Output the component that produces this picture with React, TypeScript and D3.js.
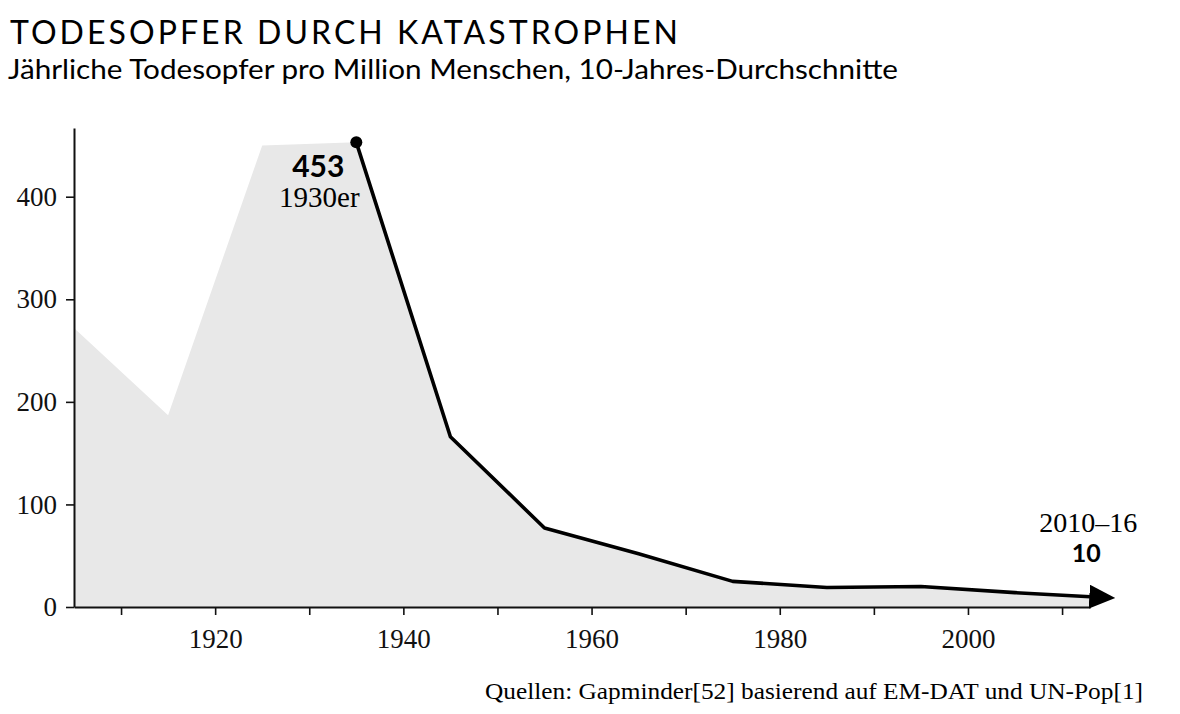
import React, { useEffect, useRef } from "react";
import * as d3 from "d3";

// decade midpoints, deaths per million per year (10-year averages)
const years = [1905, 1915, 1925, 1935, 1945, 1955, 1965, 1975, 1985, 1995, 2005, 2013];
const deathsPerMillion = [272, 187, 450, 453, 166, 77, 52, 25, 19, 20, 14, 10];
const yTicks = [0, 100, 200, 300, 400];
const xTicks = [1910, 1920, 1930, 1940, 1950, 1960, 1970, 1980, 1990, 2000, 2010];
const xLabels = [1920, 1940, 1960, 1980, 2000];

const title = "TODESOPFER DURCH KATASTROPHEN";
const subtitle = "Jährliche Todesopfer pro Million Menschen, 10-Jahres-Durchschnitte";
const source = "Quellen: Gapminder[52] basierend auf EM-DAT und UN-Pop[1]";
const peakValue = "453";
const peakLabel = "1930er";
const endLabel = "2010–16";
const endValue = "10";
const lineStartYear = 1935;

const SANS = "Lato, 'Open Sans', sans-serif";
const SERIF = "'Liberation Serif', 'DejaVu Serif', serif";

const App = () => {
  const svgRef = useRef<SVGSVGElement>(null);

  useEffect(() => {
    const svg = d3.select(svgRef.current);
    svg.selectAll("*").remove();

    const width = 1180;
    const height = 714;
    const data = years.map((yr, i) => ({ year: yr, value: deathsPerMillion[i] }));

    const x = d3.scaleLinear().domain([1905, 2013]).range([74, 1090.3]);
    const y = d3.scaleLinear().domain([0, 467]).range([607, 128]);

    svg.attr("width", width).attr("height", height);

    // titles
    svg
      .append("text")
      .attr("x", 10)
      .attr("y", 44)
      .attr("font-family", SANS)
      .attr("font-size", 32)
      .attr("textLength", 668)
      .attr("lengthAdjust", "spacing")
      .text(title);

    svg
      .append("text")
      .attr("x", 8)
      .attr("y", 79)
      .attr("font-family", SANS)
      .attr("font-size", 26)
      .attr("textLength", 890)
      .attr("lengthAdjust", "spacingAndGlyphs")
      .text(subtitle);

    // grey area
    const area = d3
      .area<{ year: number; value: number }>()
      .x((d) => x(d.year))
      .y0(y(0))
      .y1((d) => y(d.value));

    svg.append("path").datum(data).attr("d", area).attr("fill", "#e8e8e8");

    // axes
    const yAxis = svg
      .append("g")
      .attr("transform", `translate(${x(1905)},0)`)
      .call(d3.axisLeft(y).tickValues(yTicks).tickSize(8).tickSizeOuter(0).tickPadding(9));

    const xAxis = svg
      .append("g")
      .attr("transform", `translate(0,${y(0)})`)
      .call(
        d3
          .axisBottom(x)
          .tickValues(xTicks)
          .tickSize(8)
          .tickSizeOuter(0)
          .tickPadding(14)
          .tickFormat((d) => (xLabels.includes(+d) ? String(d) : ""))
      );

    [yAxis, xAxis].forEach((g) => {
      g.select(".domain").attr("stroke", "#111").attr("stroke-width", 2);
      g.selectAll(".tick line").attr("stroke", "#111").attr("stroke-width", 1.6);
      g.selectAll(".tick text")
        .attr("font-family", SERIF)
        .attr("font-size", 27)
        .attr("fill", "#111");
    });

    // arrow marker
    svg
      .append("defs")
      .append("marker")
      .attr("id", "arrow")
      .attr("markerUnits", "userSpaceOnUse")
      .attr("viewBox", "0 0 26 24")
      .attr("markerWidth", 26)
      .attr("markerHeight", 24)
      .attr("refX", 1)
      .attr("refY", 12)
      .attr("orient", "auto")
      .append("path")
      .attr("d", "M0,0 L26,12 L0,24 Z")
      .attr("fill", "#000");

    const lineData = data.filter((d) => d.year >= lineStartYear);
    const line = d3
      .line<{ year: number; value: number }>()
      .x((d) => x(d.year))
      .y((d) => y(d.value));

    svg
      .append("path")
      .datum(lineData)
      .attr("d", line)
      .attr("fill", "none")
      .attr("stroke", "#000")
      .attr("stroke-width", 3.6)
      .attr("stroke-linejoin", "round")
      .attr("marker-end", "url(#arrow)");

    const peak = lineData[0];
    svg
      .append("circle")
      .attr("cx", x(peak.year))
      .attr("cy", y(peak.value))
      .attr("r", 6)
      .attr("fill", "#000");

    // annotations
    svg
      .append("text")
      .attr("x", x(peak.year) - 38)
      .attr("y", 177)
      .attr("text-anchor", "middle")
      .attr("font-family", SANS)
      .attr("font-weight", 700)
      .attr("font-size", 30)
      .text(peakValue);

    svg
      .append("text")
      .attr("x", x(peak.year) - 37)
      .attr("y", 207)
      .attr("text-anchor", "middle")
      .attr("font-family", SERIF)
      .attr("font-size", 29)
      .text(peakLabel);

    const last = lineData[lineData.length - 1];
    svg
      .append("text")
      .attr("x", x(last.year) - 2)
      .attr("y", 532)
      .attr("text-anchor", "middle")
      .attr("font-family", SERIF)
      .attr("font-size", 28)
      .text(endLabel);

    svg
      .append("text")
      .attr("x", x(last.year) - 4)
      .attr("y", 562)
      .attr("text-anchor", "middle")
      .attr("font-family", SANS)
      .attr("font-weight", 700)
      .attr("font-size", 25)
      .text(endValue);

    svg
      .append("text")
      .attr("x", 1143)
      .attr("y", 699)
      .attr("text-anchor", "end")
      .attr("font-family", SERIF)
      .attr("font-size", 23)
      .attr("textLength", 658)
      .attr("lengthAdjust", "spacingAndGlyphs")
      .text(source);
  }, []);

  return (
    <svg
      ref={svgRef}
      width={1180}
      height={714}
      style={{ position: "absolute", left: 0, top: 0, background: "#fff" }}
    ></svg>
  );
};

export default App;
